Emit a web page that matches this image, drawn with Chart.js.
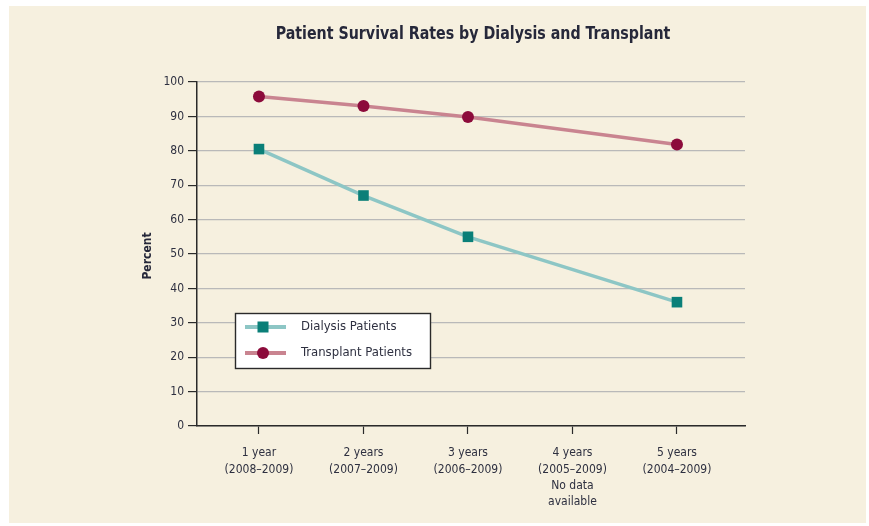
<!DOCTYPE html>
<html>
<head>
<meta charset="utf-8">
<script src="https://cdn.jsdelivr.net/npm/chart.js@4.4.1/dist/chart.umd.min.js"></script>
<style>
  html, body { margin: 0; padding: 0; background: #ffffff; }
  #wrap { width: 869px; height: 526px; position: relative; }
</style>
</head>
<body>
<div id="wrap"><canvas id="c" width="869" height="526"></canvas></div>
<script>
const chartTitle = "Patient Survival Rates by Dialysis and Transplant";
const yAxisTitle = "Percent";
const categories = [
  ["1 year", "(2008\u20132009)"],
  ["2 years", "(2007\u20132009)"],
  ["3 years", "(2006\u20132009)"],
  ["4 years", "(2005\u20132009)", "No data", "available"],
  ["5 years", "(2004\u20132009)"]
];
const dialysis = [80.5, 67, 55, null, 36];
const transplant = [95.8, 93, 89.8, null, 81.8];
const yTicks = [0, 10, 20, 30, 40, 50, 60, 70, 80, 90, 100];

const FONT = "'Liberation Sans Narrow', 'DejaVu Sans Condensed', 'Roboto Condensed', sans-serif";
const TEXT = "#2e3040";

function toPoints(arr) {
  return arr.map((v, i) => ({ x: i, y: v })).filter(p => p.y !== null);
}

const decor = {
  id: 'decor',
  beforeDraw(chart) {
    const ctx = chart.ctx;
    ctx.save();
    ctx.fillStyle = '#f6f0df';
    ctx.fillRect(9, 6, 857, 517);
    ctx.restore();
  },
  afterDraw(chart) {
    const ctx = chart.ctx;
    const ca = chart.chartArea;
    ctx.save();
    // title (slightly condensed)
    ctx.fillStyle = '#26283a';
    ctx.font = "bold 17px " + FONT;
    ctx.textAlign = 'center';
    ctx.textBaseline = 'middle';
    ctx.translate(473, 35);
    ctx.scale(0.93, 1);
    ctx.fillText(chartTitle, 0, 0);
    ctx.restore();

    ctx.save();
    ctx.fillStyle = '#26283a';
    ctx.textAlign = 'center';
    ctx.textBaseline = 'middle';
    ctx.translate(148, (ca.top + ca.bottom) / 2 + 2);
    ctx.rotate(-Math.PI / 2);
    ctx.font = "bold 12px " + FONT;
    ctx.fillText(yAxisTitle, 0, 0);
    ctx.restore();

    // legend
    ctx.save();
    const lx = ca.left + 38, ly = 313, lw = 195, lh = 55;
    ctx.fillStyle = '#ffffff';
    ctx.fillRect(lx, ly, lw, lh);
    ctx.strokeStyle = '#2a2a2a';
    ctx.lineWidth = 1.4;
    ctx.strokeRect(lx + 0.5, ly + 0.5, lw, lh);
    chart.data.datasets.forEach((ds, i) => {
      const cy = ly + 14 + i * 26;
      ctx.strokeStyle = ds.borderColor;
      ctx.lineWidth = 4;
      ctx.beginPath();
      ctx.moveTo(lx + 10, cy);
      ctx.lineTo(lx + 51, cy);
      ctx.stroke();
      ctx.fillStyle = ds.pointBackgroundColor;
      const mx = lx + 28;
      if (ds.pointStyle === 'rect') {
        ctx.fillRect(mx - 5.5, cy - 5.5, 11, 11);
      } else {
        ctx.beginPath();
        ctx.arc(mx, cy, 6, 0, Math.PI * 2);
        ctx.fill();
      }
      ctx.fillStyle = TEXT;
      ctx.font = "13px " + FONT;
      ctx.textAlign = 'left';
      ctx.textBaseline = 'middle';
      ctx.fillText(ds.label, lx + 66, cy);
    });
    ctx.restore();
  }
};

new Chart(document.getElementById('c'), {
  type: 'line',
  data: {
    datasets: [
      {
        label: 'Dialysis Patients',
        data: toPoints(dialysis),
        borderColor: '#8dc6c5',
        borderWidth: 3.5,
        pointStyle: 'rect',
        pointRadius: 7.5,
        pointBackgroundColor: '#0a7f78',
        pointBorderColor: '#0a7f78',
        pointBorderWidth: 0,
        spanGaps: true,
        tension: 0
      },
      {
        label: 'Transplant Patients',
        data: toPoints(transplant),
        borderColor: '#c98490',
        borderWidth: 3.5,
        pointStyle: 'circle',
        pointRadius: 6,
        pointBackgroundColor: '#8c0b3b',
        pointBorderColor: '#8c0b3b',
        pointBorderWidth: 0,
        spanGaps: true,
        tension: 0
      }
    ]
  },
  options: {
    responsive: false,
    animation: false,
    layout: { padding: { top: 82, right: 124, bottom: 0, left: 0 } },
    plugins: {
      legend: { display: false },
      title: { display: false },
      tooltip: { enabled: false }
    },
    scales: {
      x: {
        type: 'linear',
        min: -0.593,
        max: 4.651,
        afterFit(scale) { scale.height = 100; },
        afterBuildTicks(scale) { scale.ticks = categories.map((c, i) => ({ value: i })); },
        border: { display: true, color: '#2a2a2a', width: 1.5 },
        grid: { drawOnChartArea: false, drawTicks: true, tickLength: 8, tickColor: '#2a2a2a', tickWidth: 1.2 },
        ticks: {
          autoSkip: false,
          maxRotation: 0,
          padding: 11,
          color: TEXT,
          font: { family: FONT, size: 12, lineHeight: 1.36 },
          callback: (v) => categories[v] || ''
        }
      },
      y: {
        min: 0,
        max: 100,
        afterFit(scale) { scale.width = 197; },
        afterBuildTicks(scale) { scale.ticks = yTicks.map(v => ({ value: v })); },
        border: { display: true, color: '#2a2a2a', width: 1.5 },
        grid: { color: '#b9b9b9', lineWidth: 1.2, drawTicks: true, tickLength: 9, tickColor: '#2a2a2a', tickWidth: 1.2 },
        ticks: {
          padding: 4,
          color: TEXT,
          font: { family: FONT, size: 12 }
        }
      }
    }
  },
  plugins: [decor]
});
</script>
</body>
</html>
